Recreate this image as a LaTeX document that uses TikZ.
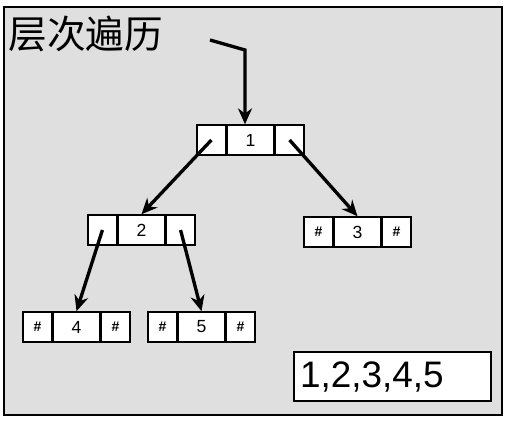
\documentclass[tikz,border=0pt]{standalone}
\usepackage{fontspec}
\setmainfont{Liberation Sans}
\newfontfamily\cjk{Noto Sans CJK SC}
\usepackage{tikz}
\usetikzlibrary{positioning, arrows.meta}

\begin{document}
\begin{tikzpicture}[
    x=0.02cm, y=-0.02cm,
    node distance=0pt,
    cell/.style={rectangle, draw, fill=white, line width=0.9pt, minimum width=0.92cm, minimum height=0.6cm, inner sep=0pt, font=\normalsize},
    side/.style={cell, minimum width=0.58cm, font=\footnotesize\bfseries},
    arr/.style={-{Stealth[length=9pt, width=8pt]}, line width=1.9pt}
]
    \useasboundingbox (0,0) rectangle (512,427);
    \draw[fill=gray!25, line width=0.9pt] (4,7) rectangle (502,415);

    \node[anchor=west, inner sep=0pt, font=\cjk\fontsize{22}{24}\selectfont] (title) at (8,34) {层次遍历};

    % root
    \node[cell] (n1) at (250.5,140) {1};
    \node[side, left=of n1] (n1l) {};
    \node[side, right=of n1] (n1r) {};

    % level two
    \node[cell] (n2) at (141.5,230) {2};
    \node[side, left=of n2] (n2l) {};
    \node[side, right=of n2] (n2r) {};
    \node[cell] (n3) at (357.5,232) {3};
    \node[side, left=of n3] (n3l) {\#};
    \node[side, right=of n3] (n3r) {\#};

    % leaves
    \node[cell] (n4) at (76.5,327) {4};
    \node[side, left=of n4] (n4l) {\#};
    \node[side, right=of n4] (n4r) {\#};
    \node[cell] (n5) at (201.5,327) {5};
    \node[side, left=of n5] (n5l) {\#};
    \node[side, right=of n5] (n5r) {\#};

    \node[rectangle, draw, fill=white, line width=0.9pt, minimum width=3.94cm, minimum height=0.98cm,
          text width=3.7cm, align=left, font=\fontsize{21}{24}\selectfont] (res) at (392.5,376.5) {1,2,3,4,5};

    \coordinate (s0) at (210,40);
    \coordinate (s1) at (245,50);
    \draw[arr] (s0) -- (s1) -- (s1 |- n1.north);
    \draw[arr] (n1l.center) -- (n2.north);
    \draw[arr] (n1r.center) -- (n3.north);
    \draw[arr] (n2l.center) -- (n4.north);
    \draw[arr] (n2r.center) -- (n5.north);
\end{tikzpicture}
\end{document}
